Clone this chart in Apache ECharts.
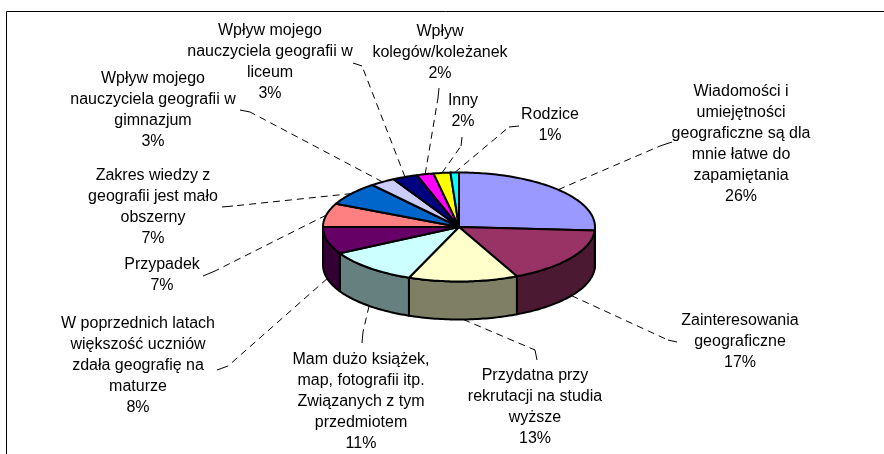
<!DOCTYPE html>
<html>
<head>
<meta charset="utf-8">
<title>Powody wyboru geografii</title>
<script src="https://cdn.jsdelivr.net/npm/echarts@6/dist/echarts.min.js"></script>
<style>
html, body { margin: 0; padding: 0; background: #fff; }
#chart { width: 884px; height: 454px; }
</style>
</head>
<body>
<div id="chart"></div>
<script>
var categories = [
    'Wiadomości i\numiejętności\ngeograficzne są dla\nmnie łatwe do\nzapamiętania',
    'Zainteresowania\ngeograficzne',
    'Przydatna przy\nrekrutacji na studia\nwyższe',
    'Mam dużo książek,\nmap, fotografii itp.\nZwiązanych z tym\nprzedmiotem',
    'W poprzednich latach\nwiększość uczniów\nzdała geografię na\nmaturze',
    'Przypadek',
    'Zakres wiedzy z\ngeografii jest mało\nobszerny',
    'Wpływ mojego\nnauczyciela geografii w\ngimnazjum',
    'Wpływ mojego\nnauczyciela geografii w\nliceum',
    'Wpływ\nkolegów/koleżanek',
    'Inny',
    'Rodzice'
];
var values = [26, 17, 13, 11, 8, 7, 7, 3, 3, 2, 2, 1];

var colors = ['#9999FF', '#993366', '#FFFFCC', '#CCFFFF', '#660066', '#FF8080',
    '#0066CC', '#CCCCFF', '#000080', '#FF00FF', '#FFFF00', '#00FFFF'];

// label placement: text centre x,y / end of leader at text / where the dashes stop
var labelPos = [
    [741, 144, 672, 142, 660, 146],
    [740, 342, 677, 342, 668, 340],
    [535, 407, 537, 360, 535, 350],
    [361, 402, 362, 343, 363, 332],
    [138, 366, 217, 370, 228, 366],
    [162, 275, 203, 276, 215, 271],
    [153, 207, 222, 207, 233, 206],
    [153, 110, 240, 110, 250, 112],
    [270, 62, 353, 63, 362, 66],
    [440, 53, 439, 88, 438, 98],
    [463, 111, 462, 137, 461, 146],
    [550, 125, 519, 126, 509, 127]
];

var chartDom = document.getElementById('chart');
var myChart = echarts.init(chartDom);

var total = 0;
var starts = [];
values.forEach(function (v) {
    starts.push(total);
    total += v;
});

// pie ellipse
var cx = 459, cy = 227, rx = 136, ry = 54.5, depth = 38;

function angleOf(p) {
    return p / total * Math.PI * 2 - Math.PI / 2;
}

function arc(a, b, dy) {
    var pts = [];
    var n = Math.max(2, Math.ceil((b - a) / 0.02));
    for (var k = 0; k <= n; k++) {
        var t = a + (b - a) * k / n;
        pts.push([cx + rx * Math.cos(t), cy + ry * Math.sin(t) + dy]);
    }
    return pts;
}

function darker(hex) {
    var r = parseInt(hex.substr(1, 2), 16) >> 1;
    var g = parseInt(hex.substr(3, 2), 16) >> 1;
    var b = parseInt(hex.substr(5, 2), 16) >> 1;
    return 'rgb(' + r + ',' + g + ',' + b + ')';
}

function renderItem(params, api) {
    var i = params.dataIndex;
    var v = api.value(0);
    var a = angleOf(starts[i]);
    var b = angleOf(starts[i] + v);
    var children = [];

    // front wall
    var wa = Math.max(a, 0), wb = Math.min(b, Math.PI);
    if (wb > wa) {
        var top = arc(wa, wb, 0);
        var bottom = arc(wa, wb, depth).reverse();
        children.push({
            type: 'polygon',
            z2: 1,
            shape: { points: top.concat(bottom) },
            style: { fill: darker(colors[i]), stroke: '#000', lineWidth: 2, lineJoin: 'round' }
        });
    }

    // top face
    children.push({
        type: 'polygon',
        z2: 2,
        shape: { points: [[cx, cy]].concat(arc(a, b, 0)) },
        style: { fill: colors[i], stroke: '#000', lineWidth: 2, lineJoin: 'round' }
    });

    // leader line
    var m = (a + b) / 2;
    var sx = cx + rx * Math.cos(m);
    var sy = cy + ry * Math.sin(m) + (Math.sin(m) > 0 ? depth : 0);
    var lp = labelPos[i];
    children.push({
        type: 'polyline',
        z2: 3,
        shape: { points: [[sx, sy], [lp[4], lp[5]]] },
        style: { stroke: '#000', lineWidth: 1, lineDash: [7, 5], fill: null }
    });
    children.push({
        type: 'polyline',
        z2: 3,
        shape: { points: [[lp[4], lp[5]], [lp[2], lp[3]]] },
        style: { stroke: '#000', lineWidth: 1, fill: null }
    });

    children.push({
        type: 'text',
        z2: 4,
        style: {
            text: categories[i] + '\n' + Math.round(v / total * 100) + '%',
            x: lp[0],
            y: lp[1],
            align: 'center',
            verticalAlign: 'middle',
            fontSize: 16,
            fontFamily: '"Liberation Sans", Arial, sans-serif',
            lineHeight: 21,
            fill: '#000'
        }
    });

    return { type: 'group', children: children };
}

var option = {
    animation: false,
    graphic: [{
        type: 'rect',
        silent: true,
        shape: { x: 6.5, y: 11.5, width: 1000, height: 1000 },
        style: { fill: 'none', stroke: '#000', lineWidth: 1 }
    }],
    series: [{
        type: 'custom',
        coordinateSystem: 'none',
        renderItem: renderItem,
        data: values
    }]
};

myChart.setOption(option);
</script>
</body>
</html>
